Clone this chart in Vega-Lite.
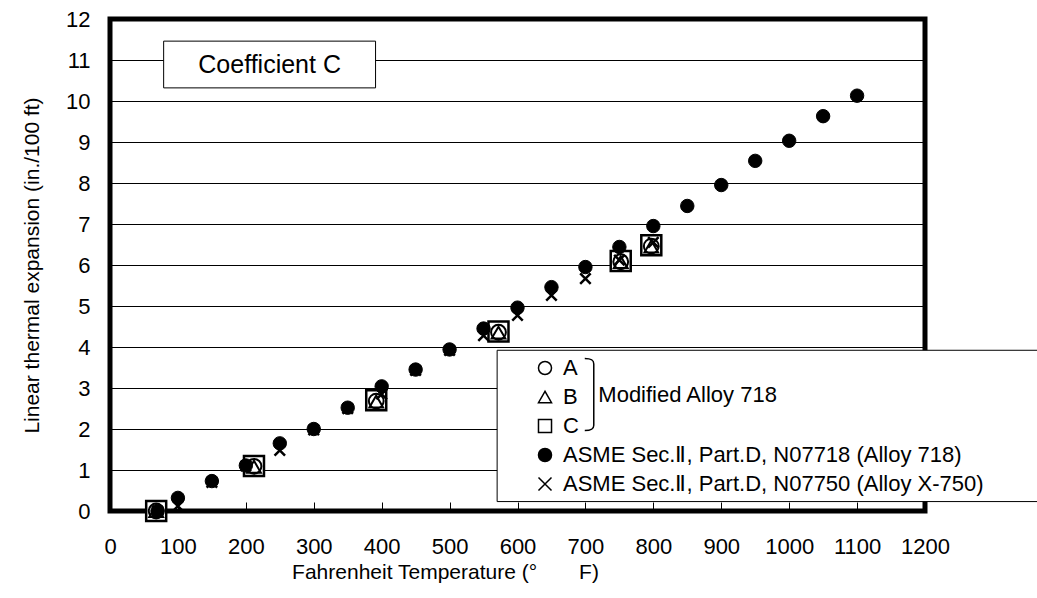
{
  "$schema": "https://vega.github.io/schema/vega-lite/v6.json",
  "width": 815,
  "height": 492,
  "autosize": {"type": "none"},
  "padding": {"left": 110, "top": 19, "right": 112, "bottom": 87},
  "background": "white",
  "config": {
    "font": "Liberation Sans",
    "view": {"stroke": "black", "strokeWidth": 5},
    "axis": {"labelColor": "black", "titleColor": "black", "labelFont": "Liberation Sans", "titleFont": "Liberation Sans", "titleFontWeight": "normal"}
  },
  "data": {
    "values": [
      {"series": "C", "T": 68, "L": 0},
      {"series": "C", "T": 212, "L": 1.1},
      {"series": "C", "T": 392, "L": 2.7},
      {"series": "C", "T": 572, "L": 4.38},
      {"series": "C", "T": 752, "L": 6.1},
      {"series": "C", "T": 797, "L": 6.48},
      {"series": "B", "T": 68, "L": 0},
      {"series": "B", "T": 212, "L": 1.08},
      {"series": "B", "T": 392, "L": 2.67},
      {"series": "B", "T": 572, "L": 4.35},
      {"series": "B", "T": 752, "L": 6.07},
      {"series": "B", "T": 797, "L": 6.45},
      {"series": "A", "T": 68, "L": 0},
      {"series": "A", "T": 212, "L": 1.09},
      {"series": "A", "T": 392, "L": 2.68},
      {"series": "A", "T": 572, "L": 4.36},
      {"series": "A", "T": 752, "L": 6.08},
      {"series": "A", "T": 797, "L": 6.46},
      {"series": "ASME Sec.Ⅱ, Part.D, N07718 (Alloy 718)", "T": 70, "L": 0},
      {"series": "ASME Sec.Ⅱ, Part.D, N07718 (Alloy 718)", "T": 100, "L": 0.32},
      {"series": "ASME Sec.Ⅱ, Part.D, N07718 (Alloy 718)", "T": 150, "L": 0.73},
      {"series": "ASME Sec.Ⅱ, Part.D, N07718 (Alloy 718)", "T": 200, "L": 1.11},
      {"series": "ASME Sec.Ⅱ, Part.D, N07718 (Alloy 718)", "T": 250, "L": 1.65},
      {"series": "ASME Sec.Ⅱ, Part.D, N07718 (Alloy 718)", "T": 300, "L": 2.0},
      {"series": "ASME Sec.Ⅱ, Part.D, N07718 (Alloy 718)", "T": 350, "L": 2.52},
      {"series": "ASME Sec.Ⅱ, Part.D, N07718 (Alloy 718)", "T": 400, "L": 3.04},
      {"series": "ASME Sec.Ⅱ, Part.D, N07718 (Alloy 718)", "T": 450, "L": 3.45},
      {"series": "ASME Sec.Ⅱ, Part.D, N07718 (Alloy 718)", "T": 500, "L": 3.94},
      {"series": "ASME Sec.Ⅱ, Part.D, N07718 (Alloy 718)", "T": 550, "L": 4.45},
      {"series": "ASME Sec.Ⅱ, Part.D, N07718 (Alloy 718)", "T": 600, "L": 4.96},
      {"series": "ASME Sec.Ⅱ, Part.D, N07718 (Alloy 718)", "T": 650, "L": 5.46},
      {"series": "ASME Sec.Ⅱ, Part.D, N07718 (Alloy 718)", "T": 700, "L": 5.95},
      {"series": "ASME Sec.Ⅱ, Part.D, N07718 (Alloy 718)", "T": 750, "L": 6.44},
      {"series": "ASME Sec.Ⅱ, Part.D, N07718 (Alloy 718)", "T": 800, "L": 6.95},
      {"series": "ASME Sec.Ⅱ, Part.D, N07718 (Alloy 718)", "T": 850, "L": 7.44},
      {"series": "ASME Sec.Ⅱ, Part.D, N07718 (Alloy 718)", "T": 900, "L": 7.95},
      {"series": "ASME Sec.Ⅱ, Part.D, N07718 (Alloy 718)", "T": 950, "L": 8.54},
      {"series": "ASME Sec.Ⅱ, Part.D, N07718 (Alloy 718)", "T": 1000, "L": 9.03},
      {"series": "ASME Sec.Ⅱ, Part.D, N07718 (Alloy 718)", "T": 1050, "L": 9.63},
      {"series": "ASME Sec.Ⅱ, Part.D, N07718 (Alloy 718)", "T": 1100, "L": 10.13},
      {"series": "ASME Sec.Ⅱ, Part.D, N07750 (Alloy X-750)", "T": 70, "L": 0},
      {"series": "ASME Sec.Ⅱ, Part.D, N07750 (Alloy X-750)", "T": 100, "L": 0.12},
      {"series": "ASME Sec.Ⅱ, Part.D, N07750 (Alloy X-750)", "T": 150, "L": 0.7},
      {"series": "ASME Sec.Ⅱ, Part.D, N07750 (Alloy X-750)", "T": 200, "L": 1.1},
      {"series": "ASME Sec.Ⅱ, Part.D, N07750 (Alloy X-750)", "T": 250, "L": 1.48},
      {"series": "ASME Sec.Ⅱ, Part.D, N07750 (Alloy X-750)", "T": 300, "L": 1.98},
      {"series": "ASME Sec.Ⅱ, Part.D, N07750 (Alloy X-750)", "T": 350, "L": 2.5},
      {"series": "ASME Sec.Ⅱ, Part.D, N07750 (Alloy X-750)", "T": 400, "L": 2.85},
      {"series": "ASME Sec.Ⅱ, Part.D, N07750 (Alloy X-750)", "T": 450, "L": 3.43},
      {"series": "ASME Sec.Ⅱ, Part.D, N07750 (Alloy X-750)", "T": 500, "L": 3.92},
      {"series": "ASME Sec.Ⅱ, Part.D, N07750 (Alloy X-750)", "T": 550, "L": 4.28},
      {"series": "ASME Sec.Ⅱ, Part.D, N07750 (Alloy X-750)", "T": 600, "L": 4.77},
      {"series": "ASME Sec.Ⅱ, Part.D, N07750 (Alloy X-750)", "T": 650, "L": 5.26},
      {"series": "ASME Sec.Ⅱ, Part.D, N07750 (Alloy X-750)", "T": 700, "L": 5.67},
      {"series": "ASME Sec.Ⅱ, Part.D, N07750 (Alloy X-750)", "T": 750, "L": 6.12},
      {"series": "ASME Sec.Ⅱ, Part.D, N07750 (Alloy X-750)", "T": 800, "L": 6.55}
    ]
  },
  "layer": [
    {
      "data": {"values": [{}]},
      "mark": {"type": "rect", "fill": "white", "stroke": "black", "strokeWidth": 1},
      "encoding": {
        "x": {"datum": 79, "type": "quantitative"},
        "x2": {"datum": 391},
        "y": {"datum": 11.46, "type": "quantitative"},
        "y2": {"datum": 10.32}
      }
    },
    {
      "data": {"values": [{}]},
      "mark": {"type": "text", "text": "Coefficient C", "fontSize": 25, "font": "Liberation Sans", "color": "black", "align": "center", "baseline": "middle"},
      "encoding": {
        "x": {"datum": 235, "type": "quantitative"},
        "y": {"datum": 10.89, "type": "quantitative"}
      }
    },
    {
      "transform": [{"filter": {"field": "series", "equal": "C"}}],
      "mark": {"type": "point", "filled": true, "stroke": "black", "strokeWidth": 2.5, "size": 400, "opacity": 1},
      "encoding": {
        "x": {
          "field": "T", "type": "quantitative",
          "scale": {"domain": [0, 1200], "nice": false, "zero": false},
          "axis": {
            "title": "Fahrenheit Temperature (°　　F)",
            "values": [0, 100, 200, 300, 400, 500, 600, 700, 800, 900, 1000, 1100, 1200],
            "format": "d",
            "grid": false, "domain": false, "ticks": true, "tickSize": -9, "tickColor": "black", "tickWidth": 1,
            "labelFontSize": 22, "labelPadding": 34, "labelFlush": false, "labelOverlap": false,
            "titleFontSize": 21, "titlePadding": 4, "titleX": 335, "titleAlign": "center"
          }
        },
        "y": {
          "field": "L", "type": "quantitative",
          "scale": {"domain": [0, 12], "nice": false, "zero": false},
          "axis": {
            "title": "Linear thermal expansion (in./100 ft)",
            "values": [0, 1, 2, 3, 4, 5, 6, 7, 8, 9, 10, 11, 12],
            "grid": true, "gridColor": "black", "gridWidth": 1, "gridOpacity": 1,
            "domain": false, "ticks": false,
            "labelFontSize": 22, "labelPadding": 20, "labelFlush": false, "labelOverlap": false,
            "titleFontSize": 21, "titlePadding": 23
          }
        },
        "shape": {
          "field": "series", "type": "nominal",
          "scale": {
            "domain": ["A", "B", "C", "ASME Sec.Ⅱ, Part.D, N07718 (Alloy 718)", "ASME Sec.Ⅱ, Part.D, N07750 (Alloy X-750)"],
            "range": ["circle", "triangle-up", "square", "circle", "M-1,-1L1,1M-1,1L1,-1"]
          },
          "legend": {
            "title": null, "orient": "none", "legendX": 424, "legendY": 338, "padding": 0,
            "labelFontSize": 22, "labelFont": "Liberation Sans", "labelColor": "black", "labelLimit": 600,
            "labelOffset": 7, "rowPadding": 7, "symbolSize": 170,
            "encode": {"symbols": {"update": {"stroke": {"value": "black"}, "strokeWidth": {"value": 1.8}, "size": {"value": 170}}}}
          }
        },
        "fill": {
          "field": "series", "type": "nominal",
          "scale": {
            "domain": ["A", "B", "C", "ASME Sec.Ⅱ, Part.D, N07718 (Alloy 718)", "ASME Sec.Ⅱ, Part.D, N07750 (Alloy X-750)"],
            "range": ["white", "white", "white", "black", "black"]
          },
          "legend": {
            "title": null, "orient": "none", "legendX": 424, "legendY": 338, "padding": 0,
            "labelFontSize": 22, "labelFont": "Liberation Sans", "labelColor": "black", "labelLimit": 600,
            "labelOffset": 7, "rowPadding": 7, "symbolSize": 170,
            "encode": {"symbols": {"update": {"stroke": {"value": "black"}, "strokeWidth": {"value": 1.8}, "size": {"value": 170}}}}
          }
        }
      }
    },
    {
      "transform": [{"filter": {"field": "series", "equal": "B"}}],
      "mark": {"type": "point", "filled": true, "stroke": "black", "strokeWidth": 2, "size": 190, "opacity": 1},
      "encoding": {
        "x": {"field": "T", "type": "quantitative"},
        "y": {"field": "L", "type": "quantitative"},
        "shape": {"field": "series", "type": "nominal"},
        "fill": {"field": "series", "type": "nominal"}
      }
    },
    {
      "transform": [{"filter": {"field": "series", "equal": "A"}}],
      "mark": {"type": "point", "filled": true, "stroke": "black", "strokeWidth": 2, "size": 220, "opacity": 1, "fillOpacity": 0},
      "encoding": {
        "x": {"field": "T", "type": "quantitative"},
        "y": {"field": "L", "type": "quantitative"},
        "shape": {"field": "series", "type": "nominal"},
        "fill": {"field": "series", "type": "nominal"}
      }
    },
    {
      "transform": [{"filter": {"field": "series", "equal": "ASME Sec.Ⅱ, Part.D, N07718 (Alloy 718)"}}],
      "mark": {"type": "point", "filled": true, "stroke": "black", "strokeWidth": 1, "size": 180, "opacity": 1},
      "encoding": {
        "x": {"field": "T", "type": "quantitative"},
        "y": {"field": "L", "type": "quantitative"},
        "shape": {"field": "series", "type": "nominal"},
        "fill": {"field": "series", "type": "nominal"}
      }
    },
    {
      "transform": [{"filter": {"field": "series", "equal": "ASME Sec.Ⅱ, Part.D, N07750 (Alloy X-750)"}}],
      "mark": {"type": "point", "filled": true, "stroke": "black", "strokeWidth": 2.5, "size": 110, "opacity": 1},
      "encoding": {
        "x": {"field": "T", "type": "quantitative"},
        "y": {"field": "L", "type": "quantitative"},
        "shape": {"field": "series", "type": "nominal"},
        "fill": {"field": "series", "type": "nominal"}
      }
    },
    {
      "data": {"values": [{}]},
      "mark": {"type": "rect", "fill": "white", "stroke": "black", "strokeWidth": 1},
      "encoding": {
        "x": {"datum": 570, "type": "quantitative"},
        "x2": {"datum": 1420},
        "y": {"datum": 3.92, "type": "quantitative"},
        "y2": {"datum": 0.23}
      }
    },
    {
      "data": {"values": [{}]},
      "mark": {"type": "point", "shape": "M-0.15,-1C0.05,-1 0.1,-0.95 0.1,-0.85L0.1,0.85C0.1,0.95 0.05,1 -0.15,1", "filled": false, "color": "black", "strokeWidth": 1.5, "size": 5184, "opacity": 1},
      "encoding": {
        "x": {"datum": 707, "type": "quantitative"},
        "y": {"datum": 2.84, "type": "quantitative"}
      }
    },
    {
      "data": {"values": [{}]},
      "mark": {"type": "text", "text": "Modified Alloy 718", "fontSize": 22, "font": "Liberation Sans", "color": "black", "align": "left", "baseline": "middle"},
      "encoding": {
        "x": {"datum": 719, "type": "quantitative"},
        "y": {"datum": 2.84, "type": "quantitative"}
      }
    }
  ]
}
